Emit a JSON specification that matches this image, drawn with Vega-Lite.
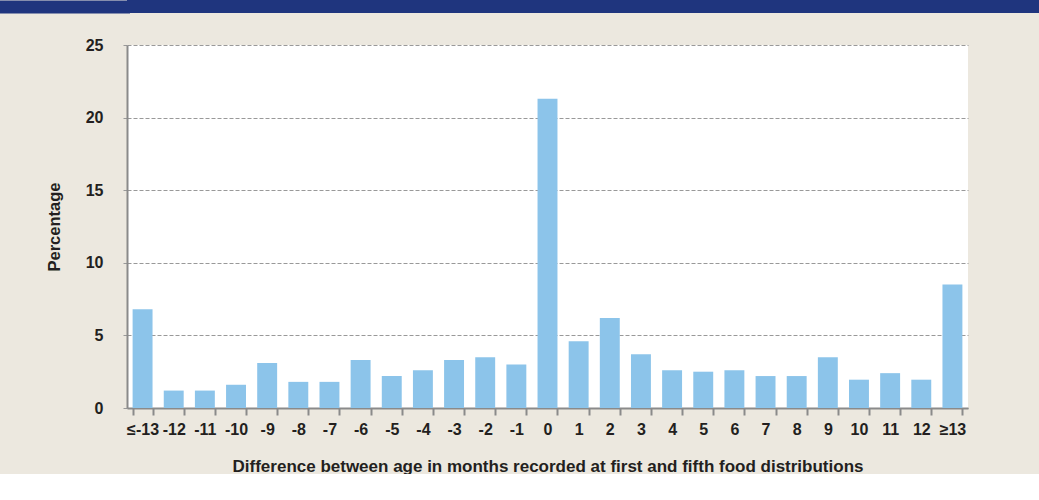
{
  "$schema": "https://vega.github.io/schema/vega-lite/v6.json",
  "background": "#ece8df",
  "padding": {"left": -10, "top": 0, "right": 0, "bottom": 0},
  "spacing": 23,
  "config": {
    "view": {"stroke": null},
    "font": "Liberation Sans",
    "axis": {"labelColor": "#231f20", "titleColor": "#231f20", "labelFontWeight": "bold", "titleFontWeight": "bold", "labelFont": "Liberation Sans", "titleFont": "Liberation Sans"}
  },
  "datasets": {
    "band": [{"v": 0.5}],
    "bars": [
      {"diff": "≤-13", "pct": 6.8},
      {"diff": "-12", "pct": 1.2},
      {"diff": "-11", "pct": 1.2},
      {"diff": "-10", "pct": 1.6},
      {"diff": "-9", "pct": 3.1},
      {"diff": "-8", "pct": 1.8},
      {"diff": "-7", "pct": 1.8},
      {"diff": "-6", "pct": 3.3},
      {"diff": "-5", "pct": 2.2},
      {"diff": "-4", "pct": 2.6},
      {"diff": "-3", "pct": 3.3},
      {"diff": "-2", "pct": 3.5},
      {"diff": "-1", "pct": 3.0},
      {"diff": "0", "pct": 21.3},
      {"diff": "1", "pct": 4.6},
      {"diff": "2", "pct": 6.2},
      {"diff": "3", "pct": 3.7},
      {"diff": "4", "pct": 2.6},
      {"diff": "5", "pct": 2.5},
      {"diff": "6", "pct": 2.6},
      {"diff": "7", "pct": 2.2},
      {"diff": "8", "pct": 2.2},
      {"diff": "9", "pct": 3.5},
      {"diff": "10", "pct": 1.95},
      {"diff": "11", "pct": 2.4},
      {"diff": "12", "pct": 1.95},
      {"diff": "≥13", "pct": 8.5}
    ]
  },
  "vconcat": [
    {
      "width": 913,
      "height": 13,
      "data": {"name": "band"},
      "view": {"fill": "#1f357e", "stroke": null},
      "mark": {"type": "point", "opacity": 0},
      "encoding": {
        "y": {
          "field": "v",
          "type": "quantitative",
          "scale": {"domain": [0, 1]},
          "axis": {
            "values": [0.5],
            "labels": false,
            "domain": false,
            "grid": false,
            "title": null,
            "ticks": true,
            "translate": 0,
            "offset": -3,
            "tickSize": 133,
            "tickWidth": 13,
            "tickColor": "#1f357e",
            "tickCap": "butt"
          }
        }
      }
    },
    {
      "width": 841,
      "height": 363,
      "data": {"name": "bars"},
      "view": {"fill": "#ffffff", "stroke": null},
      "mark": {"type": "bar", "color": "#8cc4ea"},
      "encoding": {
        "x": {
          "field": "diff",
          "type": "nominal",
          "sort": null,
          "scale": {"paddingInner": 0.36, "paddingOuter": 0.18},
          "axis": {
            "title": "Difference between age in months recorded at first and fifth food distributions",
            "labelAngle": 0,
            "labelFontSize": 16,
            "labelPadding": 6,
            "tickBand": "extent",
            "tickSize": 7,
            "tickWidth": 2,
            "tickColor": "#8a8a8a",
            "domainColor": "#8a8a8a",
            "domainWidth": 2,
            "titleFontSize": 17,
            "titlePadding": 21
          }
        },
        "y": {
          "field": "pct",
          "type": "quantitative",
          "scale": {"domain": [0, 25], "nice": false},
          "axis": {
            "title": "Percentage",
            "values": [0, 5, 10, 15, 20, 25],
            "labelFontSize": 16,
            "labelPadding": 18,
            "tickSize": 6,
            "tickColor": "#999999",
            "tickDash": [4, 2],
            "gridColor": "#999999",
            "gridDash": [4, 2],
            "domainColor": "#8a8a8a",
            "domainWidth": 2,
            "titleFontSize": 16.5,
            "titlePadding": 23
          }
        }
      }
    }
  ]
}
